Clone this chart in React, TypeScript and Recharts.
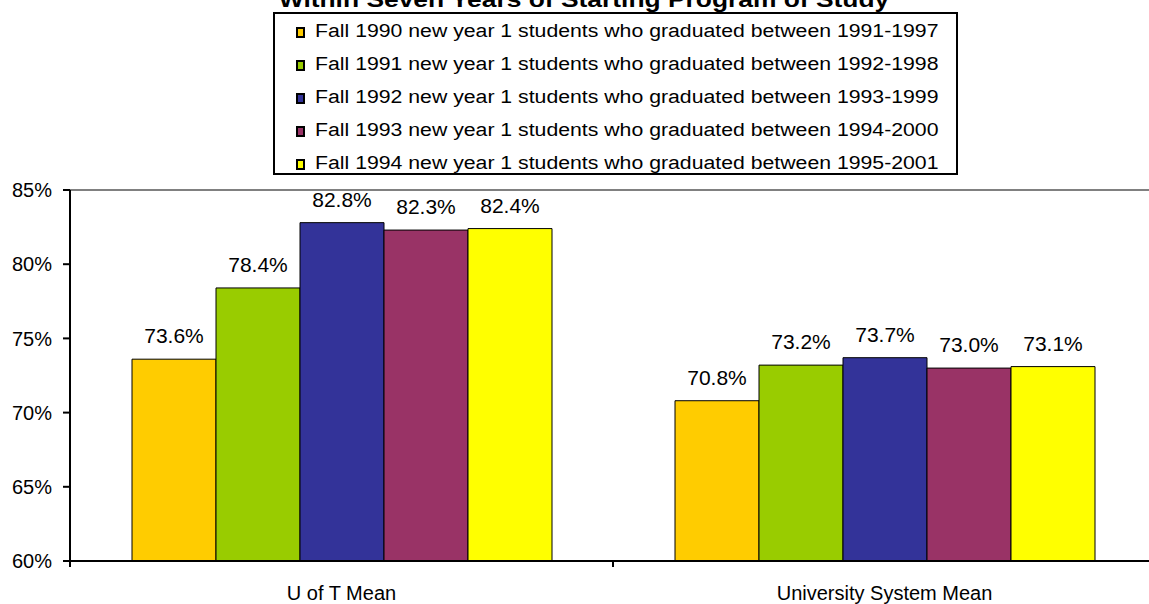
import { BarChart, Bar, XAxis, YAxis, ReferenceLine, Legend, LabelList } from "recharts";

const FONT = '"Liberation Sans", Arial, Helvetica, sans-serif';

// chart values
const categories = ["U of T Mean", "University System Mean"];
const cohortLabels = [
  "Fall 1990 new year 1 students who graduated between 1991-1997",
  "Fall 1991 new year 1 students who graduated between 1992-1998",
  "Fall 1992 new year 1 students who graduated between 1993-1999",
  "Fall 1993 new year 1 students who graduated between 1994-2000",
  "Fall 1994 new year 1 students who graduated between 1995-2001",
];
const cohortColors = ["#FFCC00", "#99CC00", "#333399", "#993366", "#FFFF00"];
const fall1990 = [73.6, 70.8];
const fall1991 = [78.4, 73.2];
const fall1992 = [82.8, 73.7];
const fall1993 = [82.3, 73.0];
const fall1994 = [82.4, 73.1];
const yTicks = [60, 65, 70, 75, 80, 85];
const titleText = "Within Seven Years of Starting Program of Study";

const series = [fall1990, fall1991, fall1992, fall1993, fall1994];

const data = categories.map((name, i) => {
  const row: any = { name };
  series.forEach((s, j) => {
    row[`s${j}`] = s[i];
  });
  return row;
});

// half of one category band, used to put the tick marks on band edges
const HALF_BAND = 271.5;

const CategoryTick = ({ x, y, payload }: any) => (
  <g>
    <line x1={x - HALF_BAND} x2={x - HALF_BAND} y1={y} y2={y + 6} stroke="#000" strokeWidth={2} />
    <line x1={x + HALF_BAND} x2={x + HALF_BAND} y1={y} y2={y + 6} stroke="#000" strokeWidth={2} />
    <text x={x} y={y + 39} textAnchor="middle" fontSize={20} fill="#000" fontFamily={FONT}>
      {payload.value}
    </text>
  </g>
);

const LegendBox = ({ payload }: any) => (
  <div
    style={{
      boxSizing: "border-box",
      width: 685,
      height: 163,
      border: "2px solid #000",
      background: "#fff",
      paddingTop: 1,
      paddingLeft: 21,
      fontFamily: FONT,
      fontSize: 18,
      color: "#000",
    }}
  >
    {(payload || []).map((entry: any) => (
      <div key={entry.value} style={{ height: 33, lineHeight: "33px", display: "flex", alignItems: "center", whiteSpace: "nowrap" }}>
        <span
          style={{
            display: "inline-block",
            boxSizing: "border-box",
            width: 9,
            height: 11,
            background: entry.color,
            border: "2px solid #000",
            marginRight: 10,
            marginTop: 2,
          }}
        />
        <span style={{ display: "inline-block", transform: "scaleX(1.18)", transformOrigin: "left center" }}>
          {entry.value}
        </span>
      </div>
    ))}
  </div>
);

export default function App() {
  return (
    <div
      style={{
        position: "fixed",
        left: 0,
        top: 0,
        width: 1149,
        height: 604,
        overflow: "hidden",
        background: "#fff",
        fontFamily: FONT,
      }}
    >
      <BarChart
        width={1160}
        height={604}
        data={data}
        margin={{ top: 190, right: 4, left: 0, bottom: 0 }}
        barCategoryGap={62}
        barGap={0}
      >
        <ReferenceLine y={85} stroke="#808080" strokeWidth={2} ifOverflow="extendDomain" />
        <XAxis
          dataKey="name"
          height={43}
          axisLine={{ stroke: "#000", strokeWidth: 2 }}
          tickLine={false}
          tickSize={0}
          tickMargin={0}
          tick={<CategoryTick />}
          interval={0}
        />
        <YAxis
          width={70}
          domain={[60, 85]}
          ticks={yTicks}
          tickFormatter={(v: number) => `${v}%`}
          axisLine={{ stroke: "#000", strokeWidth: 2 }}
          tickLine={{ stroke: "#000", strokeWidth: 2 }}
          tickSize={7}
          tickMargin={11}
          tick={{ fontSize: 20, fill: "#000", fontFamily: FONT }}
          interval={0}
        />
        <Legend
          layout="horizontal"
          verticalAlign="middle"
          align="center"
          content={<LegendBox />}
          wrapperStyle={{ position: "absolute", left: 273, top: 12, width: 685, height: 163 }}
        />
        {series.map((_, j) => (
          <Bar
            key={j}
            dataKey={`s${j}`}
            name={cohortLabels[j]}
            fill={cohortColors[j]}
            stroke="#000"
            strokeWidth={1}
            isAnimationActive={false}
          >
            <LabelList
              dataKey={`s${j}`}
              position="top"
              offset={16}
              formatter={(v: any) => `${Number(v).toFixed(1)}%`}
              fill="#000"
              fontSize={21}
              fontFamily={FONT}
            />
          </Bar>
        ))}
      </BarChart>
      <svg width={1149} height={14} style={{ position: "absolute", left: 0, top: 0, zIndex: 5 }}>
        <text
          transform="translate(584,7) scale(1.2,1)"
          textAnchor="middle"
          fontSize={22}
          fontWeight="bold"
          fill="#000"
          fontFamily={FONT}
        >
          {titleText}
        </text>
      </svg>
    </div>
  );
}
